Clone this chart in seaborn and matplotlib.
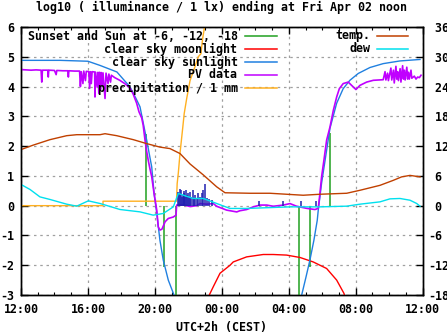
import matplotlib
matplotlib.use("Agg")
import matplotlib.pyplot as plt
import seaborn as sns
import pandas as pd

# ---------------- data (hours after 12:00 local) ----------------
x_tick_hours = [0, 4, 8, 12, 16, 20, 24]
x_tick_labels = ["12:00", "16:00", "20:00", "00:00", "04:00", "08:00", "12:00"]
left_ticks = [-3, -2, -1, 0, 1, 2, 3, 4, 5, 6]
right_ticks = [-18, -12, -6, 0, 6, 12, 18, 24, 30, 36]

# Sunset and Sun at -6, -12, -18 (vertical markers)
sun_event_hours = [7.45, 8.56, 9.28, 16.62, 17.28, 18.48]
sun_event_tops = [2.40, -2.05, -3.30, -3.30, -2.05, 2.43]

# clear sky moonlight
moon_hours = [11.20, 11.25, 11.49, 11.89, 12.49, 12.68, 13.48, 14.47, 15.07, 15.87,
              16.67, 17.46, 18.26, 18.86, 19.30, 19.35]
moon_vals = [-3.10, -3.00, -2.72, -2.27, -2.00, -1.89, -1.72, -1.64, -1.64, -1.66,
             -1.74, -1.89, -2.11, -2.50, -2.95, -3.10]

# clear sky sunlight
sun_hours_eve = [0.00, 2.33, 4.00, 4.72, 5.73, 6.51, 6.87, 7.11, 7.51, 7.81, 7.95,
                 8.11, 8.30, 8.50, 8.80, 9.10, 9.20]
sun_vals_eve = [4.88, 4.88, 4.85, 4.71, 4.49, 3.99, 3.60, 3.32, 2.20, 1.30, 0.42,
                -0.25, -1.16, -1.83, -2.50, -2.94, -3.10]
sun_hours_morn = [16.67, 16.77, 17.03, 17.26, 17.50, 17.70, 17.76, 17.96, 18.26, 18.46,
                  18.86, 19.25, 19.65, 20.15, 20.85, 21.64, 22.64, 23.84]
sun_vals_morn = [-3.10, -3.00, -2.39, -1.83, -1.16, -0.49, -0.15, 0.76, 1.86, 2.60,
                 3.44, 3.93, 4.21, 4.44, 4.64, 4.77, 4.86, 4.91]

# PV data
pv_hours = [0.00, 0.30, 0.60, 0.90, 1.20, 1.24, 1.28, 1.60, 1.63, 1.66, 2.00, 2.10, 2.14,
            2.50, 2.80, 2.83, 2.86, 3.20, 3.50, 3.55, 3.60, 3.70, 3.75, 3.85, 3.90, 4.05,
            4.10, 4.15, 4.20, 4.25, 4.40, 4.42, 4.46, 4.55, 4.60, 4.65, 4.70, 4.75, 4.80,
            4.84, 4.90, 5.02, 5.08, 5.20, 5.25, 5.35, 5.40, 5.60, 5.90, 6.20, 6.51, 6.70,
            6.91, 7.05, 7.21, 7.30, 7.41, 7.50, 7.60, 7.70, 7.81, 7.95, 8.11, 8.20, 8.30,
            8.42, 8.61, 8.80, 9.10, 9.26, 9.30, 9.70, 10.10, 10.50, 10.69, 11.09, 11.49,
            11.69, 12.29, 12.89, 13.08, 13.48, 13.88, 14.28, 14.68, 15.07, 15.67, 16.07,
            16.47, 17.07, 17.56, 17.76, 17.86, 17.96, 18.10, 18.26, 18.46, 18.66, 18.86,
            19.02, 19.25, 19.55, 19.75, 20.01, 20.25, 20.65, 21.05, 21.64, 21.75, 21.80,
            21.90, 21.95, 22.10, 22.15, 22.25, 22.30, 22.40, 22.45, 22.50, 22.55, 22.65,
            22.70, 22.80, 22.85, 22.90, 22.95, 23.05, 23.10, 23.15, 23.20, 23.30, 23.35,
            23.50, 23.60, 23.70, 23.80, 23.90]
pv_vals = [4.57, 4.56, 4.55, 4.56, 4.55, 4.15, 4.55, 4.55, 4.32, 4.55, 4.54, 4.40, 4.54,
           4.53, 4.53, 4.32, 4.53, 4.52, 4.52, 4.00, 4.50, 4.10, 4.52, 4.20, 4.51, 4.50,
           3.94, 4.50, 4.10, 4.50, 4.49, 3.65, 4.48, 4.00, 4.48, 3.77, 4.48, 3.90, 4.47,
           4.05, 4.46, 3.60, 4.45, 4.10, 4.42, 4.15, 4.38, 4.30, 4.21, 4.10, 3.95, 3.75,
           3.44, 3.15, 2.95, 2.70, 2.20, 1.85, 1.53, 1.25, 0.97, 0.41, -0.15, -0.71, -0.82,
           -0.79, -0.54, -0.43, -0.38, -0.32, 0.02, 0.03, -0.03, 0.00, 0.07, 0.05, 0.07,
           -0.02, -0.15, -0.21, -0.17, -0.13, -0.04, 0.02, 0.02, -0.02, 0.02, 0.07,
           -0.02, -0.09, -0.13, -0.09, 0.41, 0.97, 1.53, 2.20, 2.64, 3.20, 3.65,
           3.93, 4.10, 4.15, 4.04, 3.90, 4.04, 4.15, 4.21, 4.23, 4.50, 4.22,
           4.45, 4.20, 4.62, 4.22, 4.55, 4.12, 4.68, 4.25, 4.50, 4.20, 4.60,
           4.15, 4.70, 4.25, 4.55, 4.22, 4.65, 4.25, 4.48, 4.25, 4.55, 4.28,
           4.35, 4.25, 4.32, 4.30, 4.38]

# second PV trace (impulses)
pv_imp_hours = [9.40, 9.46, 9.52, 9.56, 9.62, 9.66, 9.72, 9.76, 9.82, 9.86, 9.92, 9.99,
                10.05, 10.10, 10.18, 10.26, 10.32, 10.39, 10.50, 10.59, 10.70, 10.79,
                10.89, 11.00, 11.10, 11.25, 11.40, 14.22, 15.67, 16.71, 17.62]
pv_imp_vals = [0.45, 0.41, 0.55, 0.52, 0.30, 0.35, 0.48, 0.41, 0.30, 0.54, 0.35, 0.41,
               0.28, 0.46, 0.30, 0.52, 0.25, 0.35, 0.25, 0.41, 0.30, 0.41,
               0.52, 0.74, 0.25, 0.22, 0.18, 0.15, 0.15, 0.15, 0.15]

# precipitation / 1 mm
precip_hours = [0.00, 4.90, 4.90, 9.29, 9.33, 9.40, 9.50, 9.66, 9.75, 9.90, 10.10, 10.39,
                10.59, 10.75, 10.85, 10.95, 11.05]
precip_vals = [0.00, 0.00, 0.15, 0.15, 0.74, 1.10, 1.76, 2.60, 3.09, 3.60, 4.20, 4.66,
               5.00, 5.10, 5.60, 5.95, 6.40]

# temperature and dew point (degC, right axis)
temp_hours = [0.00, 0.73, 1.73, 2.73, 3.33, 4.72, 5.02, 5.72, 6.71, 7.51, 8.30, 8.90,
              9.50, 10.10, 10.89, 11.69, 12.19, 13.68, 14.87, 16.86, 17.86, 19.46,
              20.25, 21.45, 22.24, 22.74, 23.24, 23.84]
temp_vals = [11.3, 12.2, 13.3, 14.1, 14.3, 14.3, 14.5, 14.1, 13.3, 12.5, 11.8, 11.5,
             10.5, 8.4, 6.2, 3.8, 2.6, 2.5, 2.5, 2.1, 2.3, 2.5,
             3.1, 4.1, 5.1, 5.8, 6.1, 5.8]
dew_hours = [0.00, 0.54, 1.13, 1.73, 2.73, 3.33, 4.02, 4.72, 5.51, 5.91, 7.11, 7.90,
             8.50, 9.10, 9.40, 9.70, 10.29, 10.89, 11.69, 12.49, 13.48, 16.07, 17.86,
             19.46, 20.25, 21.45, 22.04, 22.64, 23.24, 23.64, 23.84]
dew_vals = [4.27, 3.26, 1.77, 1.25, 0.30, -0.10, 0.97, 0.44, -0.36, -0.77, -1.25, -1.91,
            -1.57, -0.24, 2.46, 2.11, 1.45, 1.45, 0.44, -0.56, -0.56, -0.24, -0.24,
            -0.10, 0.30, 0.77, 1.37, 1.45, 1.10, 0.44, -0.10]

# ---------------- style ----------------
FS = 8.4
plt.rcParams['font.family'] = ['DejaVu Sans Mono']
plt.rcParams['font.weight'] = 'bold'
plt.rcParams['axes.labelweight'] = 'bold'

C_GREEN = '#20a020'
C_RED = '#ff0000'
C_BLUE = '#2080e0'
C_PURPLE = '#c000ff'
C_ORANGE = '#ffb020'
C_TEMP = '#c04000'
C_DEW = '#00e0ee'
C_NAVY = '#2020b0'

W, H = 447, 335
L, R, T, B = 21, 422.7, 27, 295
fig = plt.figure(figsize=(W / 100, H / 100), dpi=100)
ax = fig.add_axes([L / W, 1 - B / H, (R - L) / W, (B - T) / H])
ax2 = ax.twinx()

# ---------------- draw ----------------
ax.vlines(sun_event_hours, 0, sun_event_tops, color=C_GREEN, lw=1.1, zorder=3)
sns.lineplot(x=moon_hours, y=moon_vals, ax=ax, color=C_RED, lw=1.0,
             estimator=None, sort=False, legend=False, zorder=3)
sns.lineplot(x=sun_hours_eve, y=sun_vals_eve, ax=ax, color=C_BLUE, lw=1.0,
             estimator=None, sort=False, legend=False, zorder=3)
sns.lineplot(x=sun_hours_morn, y=sun_vals_morn, ax=ax, color=C_BLUE, lw=1.0,
             estimator=None, sort=False, legend=False, zorder=3)
sns.lineplot(x=pv_hours, y=pv_vals, ax=ax, color=C_PURPLE, lw=1.2,
             estimator=None, sort=False, legend=False, zorder=4)
ax.vlines(pv_imp_hours, 0, pv_imp_vals, color=C_NAVY, lw=1.1, zorder=4)
sns.lineplot(x=precip_hours, y=precip_vals, ax=ax, color=C_ORANGE, lw=1.0,
             estimator=None, sort=False, legend=False, zorder=3)
sns.lineplot(x=temp_hours, y=temp_vals, ax=ax2, color=C_TEMP, lw=1.0,
             estimator=None, sort=False, legend=False)
sns.lineplot(x=dew_hours, y=dew_vals, ax=ax2, color=C_DEW, lw=1.0,
             estimator=None, sort=False, legend=False)

# ---------------- axes ----------------
ax.set_xlim(0, 24)
ax.set_ylim(-3, 6)
ax2.set_ylim(-18, 36)
ax.set_xticks(x_tick_hours)
ax.set_xticklabels(x_tick_labels)
ax.set_xticks(range(0, 25), minor=True)
ax.set_yticks(left_ticks)
ax.set_yticklabels([str(v) for v in left_ticks])
ax2.set_yticks(right_ticks)
ax2.set_yticklabels([("%d" % v) if v < 0 else (" %d" % v) for v in right_ticks])
ax.set_ylabel('')
ax2.set_ylabel('')

ax.tick_params(axis='x', which='major', direction='in', length=5, width=1,
               top=True, labelsize=FS, pad=6)
ax.tick_params(axis='x', which='minor', direction='in', length=2.5, width=0.8, top=True)
ax.tick_params(axis='y', which='major', direction='in', length=5, width=1,
               right=False, labelsize=FS, pad=5)
ax2.tick_params(axis='y', which='major', direction='in', length=5, width=1,
                left=False, labelsize=FS, pad=4)
for a in (ax, ax2):
    for s in a.spines.values():
        s.set_color('black')
        s.set_linewidth(1.0)

ax.grid(True, which='major', color='#a0a0a0', linestyle=(0, (2, 3)), lw=0.9)
ax.set_axisbelow(True)

ax.set_xlabel('UTC+2h (CEST)', fontsize=FS, fontweight='bold')
ax.xaxis.set_label_coords(0.5, -(327 - B) / (B - T))
ax.xaxis.label.set_va('center')

fig.text((L + R) / 2 / W, 1 - 7 / H,
         'log10 ( illuminance / 1 lx) ending at Fri Apr 02 noon',
         ha='center', va='center', fontsize=FS, fontweight='bold')

# ---------------- legend (manual, gnuplot style) ----------------
def fx(px):
    return (px - L) / (R - L)

def fy(py):
    return (B - py) / (B - T)

left_entries = [("Sunset and Sun at -6, -12, -18", C_GREEN),
                ("clear sky moonlight", C_RED),
                ("clear sky sunlight", C_BLUE),
                ("PV data", C_PURPLE),
                ("precipitation / 1 mm", C_ORANGE)]
right_entries = [("temp.", C_TEMP), ("dew", C_DEW)]
rows = [36, 49, 62, 75, 88]
for (lab, col), ry in zip(left_entries, rows):
    ax.text(fx(237.5), fy(ry), lab, transform=ax.transAxes, ha='right', va='center',
            fontsize=FS, fontweight='bold', zorder=10)
    ax.plot([fx(245), fx(277)], [fy(ry), fy(ry)], transform=ax.transAxes,
            color=col, lw=1.1, zorder=10)
for (lab, col), ry in zip(right_entries, rows):
    ax.text(fx(370), fy(ry), lab, transform=ax.transAxes, ha='right', va='center',
            fontsize=FS, fontweight='bold', zorder=10)
    ax.plot([fx(377), fx(408)], [fy(ry), fy(ry)], transform=ax.transAxes,
            color=col, lw=1.1, zorder=10)

fig.savefig('out.png', dpi=100)
